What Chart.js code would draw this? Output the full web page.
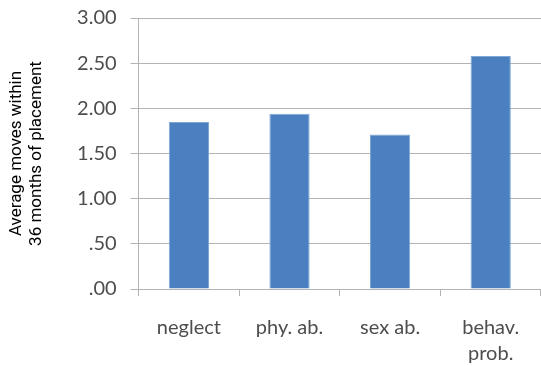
<!DOCTYPE html>
<html>
<head>
<meta charset="utf-8">
<script src="https://cdn.jsdelivr.net/npm/chart.js@4/dist/chart.umd.min.js"></script>
<style>
  html, body { margin: 0; padding: 0; background: #fff; overflow: hidden; }
  #wrap { width: 541px; height: 366px; }
</style>
</head>
<body>
<div id="wrap"><canvas id="myChart"></canvas></div>
<script>
const categories = ["neglect", "phy. ab.", "sex ab.", ["behav.", "prob."]];
const moves = [1.85, 1.94, 1.71, 2.58];
const yTitle = ["Average moves within", "36 months of placement"];

const ctx = document.getElementById("myChart").getContext("2d");

new Chart(ctx, {
  type: "bar",
  data: {
    labels: categories,
    datasets: [{
      data: moves,
      backgroundColor: "#4a80c0",
      borderColor: "#7fa6d6",
      borderWidth: 1,
      barPercentage: 0.8,
      categoryPercentage: 0.5
    }]
  },
  options: {
    responsive: true,
    maintainAspectRatio: false,
    animation: false,
    // negative padding pushes the plot to the canvas edges like the original
    layout: { padding: { top: 0, right: -12, bottom: -20, left: 7 } },
    plugins: {
      legend: { display: false },
      tooltip: { enabled: false }
    },
    scales: {
      x: {
        grid: {
          drawOnChartArea: false,
          drawTicks: true,
          tickLength: 7,
          color: "#b3b3b3"
        },
        border: { color: "#b3b3b3", width: 1 },
        ticks: {
          color: "#4d4d4d",
          padding: 19,
          font: { family: "Lato", size: 20, lineHeight: 1.3 }
        }
      },
      y: {
        min: 0,
        max: 3,
        ticks: {
          stepSize: 0.5,
          color: "#4d4d4d",
          padding: 14,
          // small lineHeight only trims the space reserved above the top label
          font: { family: "Lato", size: 20, lineHeight: 0.4 },
          callback: (v) => v.toFixed(2).replace(/^0/, "")
        },
        grid: {
          color: "#b3b3b3",
          tickLength: 8
        },
        border: { color: "#b3b3b3", width: 1 },
        title: {
          display: true,
          text: yTitle,
          color: "#000",
          padding: { top: 0, bottom: 17 },
          font: { family: "Roboto", size: 17, lineHeight: 1.15 }
        }
      }
    }
  }
});
</script>
</body>
</html>
